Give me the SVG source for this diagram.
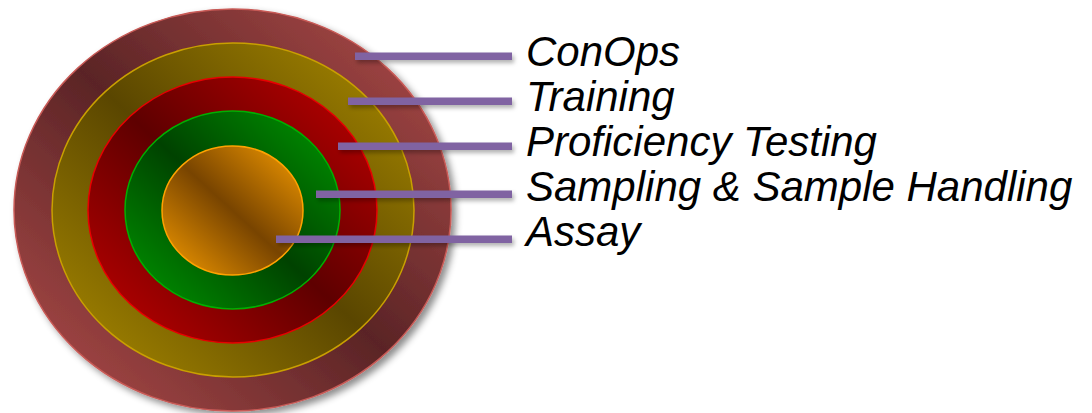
<svg xmlns="http://www.w3.org/2000/svg" width="1092" height="413" viewBox="0 0 1092 413">
<defs>
<style>
.lbl{font-family:"Liberation Sans",Arial,sans-serif;font-style:italic;font-size:42px;fill:#000}
.bar{fill:#8064a2}
</style>
<filter id="sh" x="-20%" y="-20%" width="140%" height="140%">
<feDropShadow dx="4" dy="4" stdDeviation="3.5" flood-color="#000" flood-opacity="0.45"/>
</filter>
<filter id="shb" x="-10%" y="-100%" width="120%" height="400%">
<feDropShadow dx="2" dy="3" stdDeviation="2" flood-color="#000" flood-opacity="0.3"/>
</filter>
<linearGradient id="gOuter" x1="1" y1="0" x2="0" y2="1">
<stop offset="0" stop-color="#b44e4b"/><stop offset="0.5" stop-color="#5a2426"/><stop offset="1" stop-color="#b44e4b"/>
</linearGradient>
<linearGradient id="gYel" x1="1" y1="0" x2="0" y2="1">
<stop offset="0" stop-color="#ad8d00"/><stop offset="0.5" stop-color="#5a4600"/><stop offset="1" stop-color="#ad8d00"/>
</linearGradient>
<linearGradient id="gRed" x1="1" y1="0" x2="0" y2="1">
<stop offset="0" stop-color="#c40000"/><stop offset="0.5" stop-color="#5e0000"/><stop offset="1" stop-color="#c40000"/>
</linearGradient>
<linearGradient id="gGrn" x1="1" y1="0" x2="0" y2="1">
<stop offset="0" stop-color="#009a00"/><stop offset="0.5" stop-color="#004200"/><stop offset="1" stop-color="#009a00"/>
</linearGradient>
<linearGradient id="gOrg" x1="1" y1="0" x2="0" y2="1">
<stop offset="0" stop-color="#f89d00"/><stop offset="0.5" stop-color="#784400"/><stop offset="1" stop-color="#f89d00"/>
</linearGradient>
</defs>
<rect width="1092" height="413" fill="#fff"/>
<g id="conops">
<ellipse cx="232.5" cy="210" rx="218.5" ry="201" fill="url(#gOuter)" stroke="#c85a56" stroke-width="1.5" filter="url(#sh)"/>
</g>
<g id="training">
<ellipse cx="233" cy="210" rx="181" ry="167" fill="url(#gYel)" stroke="#c9a000" stroke-width="1.5"/>
</g>
<g id="proficiency">
<ellipse cx="232.5" cy="210" rx="144.5" ry="133" fill="url(#gRed)" stroke="#e80000" stroke-width="1.5"/>
</g>
<g id="sampling">
<ellipse cx="232.5" cy="210" rx="107.5" ry="99" fill="url(#gGrn)" stroke="#00b000" stroke-width="1.5"/>
</g>
<g id="assay">
<ellipse cx="232.5" cy="210.5" rx="70.5" ry="64.5" fill="url(#gOrg)" stroke="#ffa200" stroke-width="1.5"/>
</g>
<g id="connectors" filter="url(#shb)">
<rect class="bar" x="355" y="52.5" width="157" height="7.5"/>
<rect class="bar" x="348" y="97.5" width="164" height="7.5"/>
<rect class="bar" x="338" y="142.5" width="174" height="7.5"/>
<rect class="bar" x="316" y="190.5" width="196" height="7.5"/>
<rect class="bar" x="276" y="235.5" width="236" height="7.5"/>
</g>
<g id="labels">
<text class="lbl" x="526" y="66">ConOps</text>
<text class="lbl" x="526" y="110.5">Training</text>
<text class="lbl" x="526" y="156">Proficiency Testing</text>
<text class="lbl" x="526" y="201">Sampling &amp; Sample Handling</text>
<text class="lbl" x="526" y="246">Assay</text>
</g>
</svg>
